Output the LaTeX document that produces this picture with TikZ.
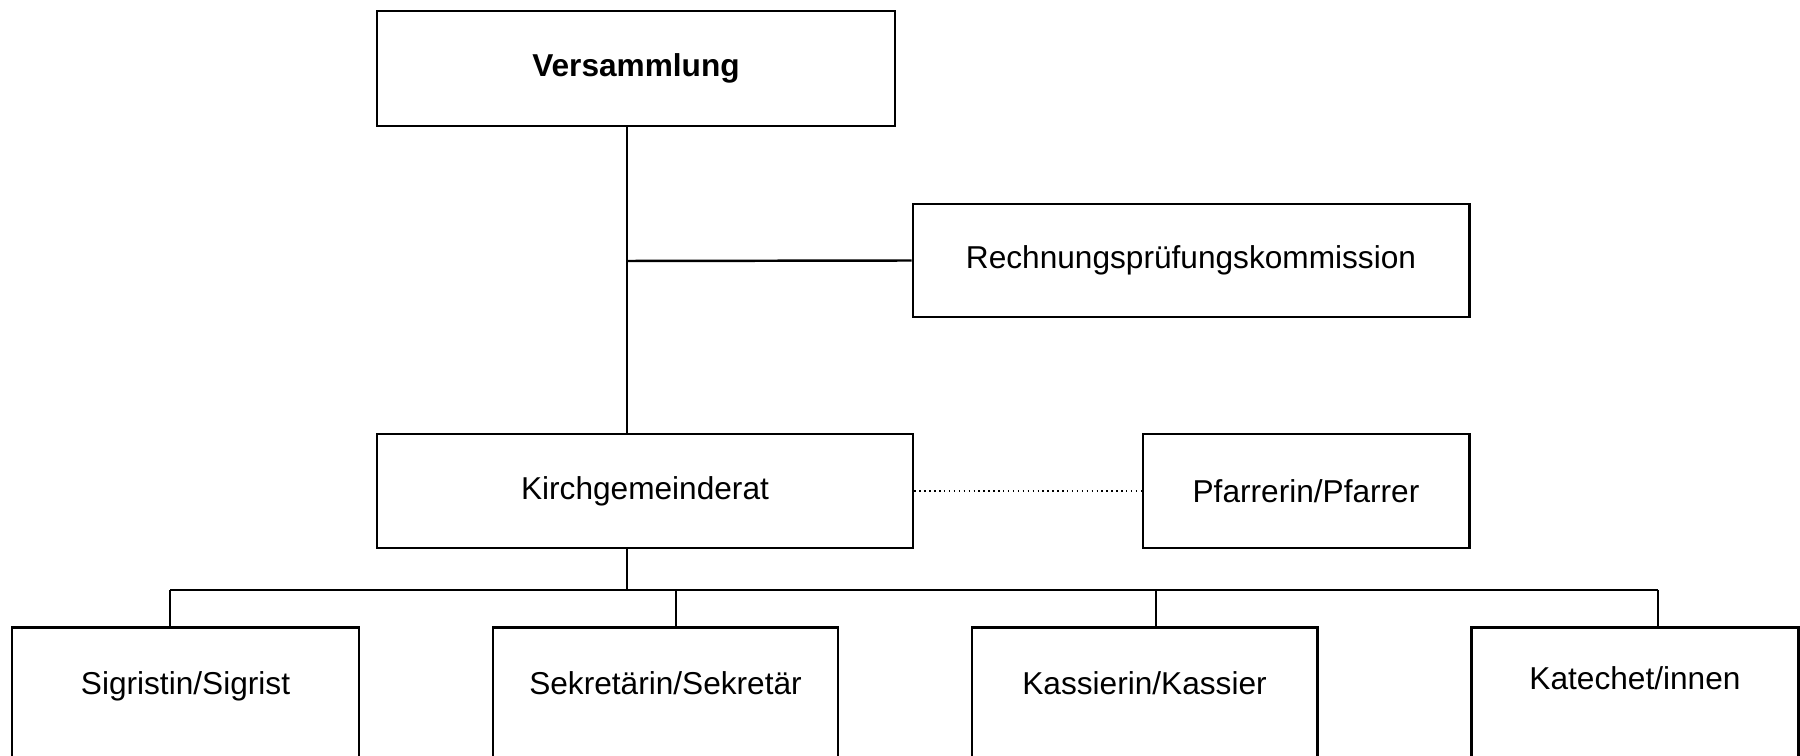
\documentclass[tikz,border=0pt]{standalone}
\usepackage{fontspec}
\setmainfont{Liberation Sans}
\usepackage{tikz}

\begin{document}
\begin{tikzpicture}[
		orgbox/.style={draw, line width=0.85pt, inner sep=0pt, font=\fontsize{9}{11}\selectfont},
		staffbox/.style={orgbox, anchor=north, minimum width=3.45cm, inner ysep=0pt,
			text height=0.67cm, text depth=1.2cm},
		link/.style={line width=0.7pt},
		dotlink/.style={line width=0.4pt, densely dotted}
	]
			\useasboundingbox (0,0) rectangle (18,7.56);
			\clip (0,0) rectangle (18,7.56);

			% oberste Ebene
			\node[orgbox, minimum width=5.18cm, minimum height=1.15cm, font=\fontsize{9}{11}\selectfont\bfseries] (vers) at (6.36,6.875) {Versammlung};
			\node[orgbox, minimum width=5.56cm, minimum height=1.13cm] (rpk) at (11.91,4.955) {Rechnungsprüfungskommission};
			\node[orgbox, minimum width=5.36cm, minimum height=1.14cm] (kgr) at (6.45,2.65) {Kirchgemeinderat};
			\node[orgbox, minimum width=3.26cm, minimum height=1.14cm] (pfr) at (13.06,2.65) {Pfarrerin/Pfarrer};

			% Angestellte
			\node[staffbox, minimum width=3.47cm] (sig) at (1.855,1.30) {Sigristin/Sigrist};
			\node[staffbox] (sek) at (6.655,1.30) {Sekretärin/Sekretär};
			\node[staffbox] (kas) at (11.445,1.30) {Kassierin/Kassier};
			\node[staffbox, minimum width=3.265cm, text height=0.62cm] (kat) at (16.35,1.30) {Katechet/innen};

			\coordinate (trunk) at (6.27,4.95);
			\coordinate (bar) at (6.27,1.66);
			\coordinate (sig top) at ([xshift=-0.155cm]sig.north);
			\coordinate (sek top) at ([xshift=0.105cm]sek.north);
			\coordinate (kas top) at ([xshift=0.115cm]kas.north);
			\coordinate (kat top) at ([xshift=0.23cm]kat.north);

			\draw[link] (vers.south -| trunk) -- (kgr.north -| trunk);
			\draw[link] (trunk) -- (rpk.west);
			\draw[dotlink] (kgr.east) -- (pfr.west);
			\draw[link] (kgr.south -| bar) -- (bar);
			\draw[link] (sig top |- bar) -- (kat top |- bar);
			\foreach \n in {sig, sek, kas, kat}
				\draw[link] (\n\space top |- bar) -- (\n\space top);
		\end{tikzpicture}
\end{document}
